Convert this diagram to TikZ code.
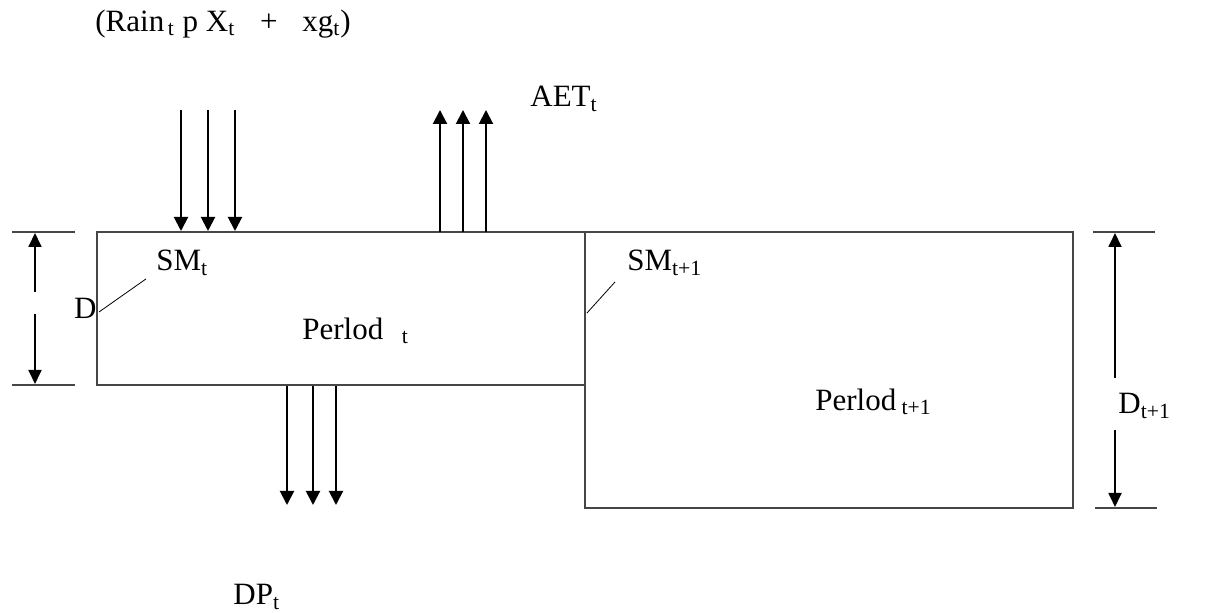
\documentclass[tikz,border=0pt]{standalone}
\usepackage{fontspec}
\setmainfont{Liberation Serif}
\usetikzlibrary{arrows.meta, positioning, calc}
\definecolor{boxline}{RGB}{70, 70, 70}

\tikzset{
    flow/.style={line width=1pt, -{Triangle[length=7pt, width=7pt]}},
    dimline/.style={line width=0.9pt, -{Triangle[length=7pt, width=6.5pt]}},
    tick/.style={boxline, line width=0.7pt},
    leader/.style={line width=0.4pt},
    lbl/.style={inner sep=0pt, font=\fontsize{15.5}{18}\selectfont}
}

\begin{document}
\begin{tikzpicture}[x=0.5pt, y=-0.5pt]
    \useasboundingbox (0,0) rectangle (1205,613);

    % Two soil layers (periods)
    \draw[boxline, line width=0.75pt] (97,232) rectangle (585,385);
    \draw[boxline, line width=0.75pt] (585,232) rectangle (1073,508);

    % Labels
    \node[lbl, anchor=west] (input) at (95,24) {(Rain\textsubscript{\,t} p X\textsubscript{t}\hspace{0.8em}+\hspace{0.8em}xg\textsubscript{t})};
    \node[lbl, anchor=west] (aet) at (530,99) {AET\textsubscript{t}};
    \node[lbl, anchor=west] (dp) at (233,597) {DP\textsubscript{t}};
    \node[lbl, anchor=west] (smt) at (156,263) {SM\textsubscript{t}};
    \node[lbl, anchor=west] (smnext) at (627,263) {SM\textsubscript{t+1}};
    \node[lbl, anchor=east] (dt) at (97,308) {D};
    \node[lbl, anchor=west] (pert) at (302,331) {Perlod\hspace{0.6em}\textsubscript{t}};
    \node[lbl, anchor=west] (pernext) at (815,402) {Perlod\,\textsubscript{t+1}};
    \node[lbl, anchor=west] (dnext) at (1118,406) {D\textsubscript{t+1}};

    % Leader lines
    \coordinate (smtfoot) at (99,312);
    \coordinate (smnextfoot) at (587,313);
    \draw[leader] (smtfoot) -- ($(smt.south west)+(-10,3)$);
    \draw[leader] (smnextfoot) -- ($(smnext.south west)+(-12,6)$);

    % Vertical flows
    \foreach \x in {181, 208, 235} {
        \coordinate (rain\x) at (\x,110);
        \coordinate (top\x) at (\x,231);
        \draw[flow] (rain\x) -- (top\x);
    }
    \foreach \x in {440, 463, 486} {
        \coordinate (soil\x) at (\x,232);
        \coordinate (air\x) at (\x,110);
        \draw[flow] (soil\x) -- (air\x);
    }
    \foreach \x in {287, 313, 336} {
        \coordinate (base\x) at (\x,386);
        \coordinate (deep\x) at (\x,505);
        \draw[flow] (base\x) -- (deep\x);
    }

    % Depth of layer t
    \draw[tick] (12,232) -- (75,232);
    \draw[tick] (12,385) -- (75,385);
    \coordinate (dtup) at (35,292);
    \coordinate (dtdown) at (35,314);
    \draw[dimline] (dtup) -- (35,233);
    \draw[dimline] (dtdown) -- (35,384);

    % Depth of layer t+1
    \draw[tick] (1093,232) -- (1155,232);
    \draw[tick] (1095,508) -- (1157,508);
    \coordinate (dnup) at (1115,378);
    \coordinate (dndown) at (1115,430);
    \draw[dimline] (dnup) -- (1115,233);
    \draw[dimline] (dndown) -- (1115,507);
\end{tikzpicture}
\end{document}
